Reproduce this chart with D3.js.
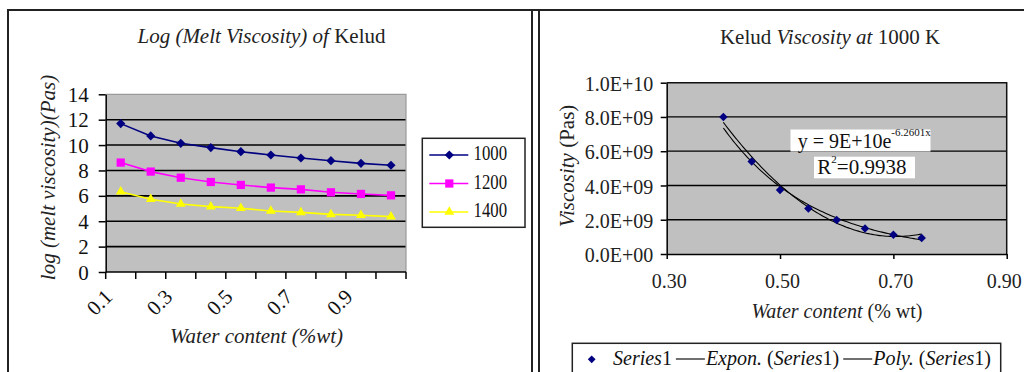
<!DOCTYPE html>
<html><head><meta charset="utf-8">
<script src="https://cdn.jsdelivr.net/npm/d3@7"></script>
<style>
body{margin:0;background:#fff;}
svg{display:block;font-family:"Liberation Serif","Times New Roman",serif;}
</style></head>
<body>
<script>
// ---------- DATA ----------
// Left chart: log(melt viscosity) vs water content, three temperatures
const waterCategories = ["0.1","0.2","0.3","0.4","0.5","0.6","0.7","0.8","0.9","1.0"];
const temperatures = ["1000","1200","1400"];
const logVisc1000 = [11.69,10.72,10.14,9.80,9.48,9.22,8.98,8.77,8.56,8.41];
const logVisc1200 = [8.62,7.91,7.43,7.09,6.86,6.65,6.51,6.28,6.15,6.04];
const logVisc1400 = [6.33,5.73,5.36,5.15,5.02,4.81,4.70,4.54,4.47,4.36];
const leftYTicks = [0,2,4,6,8,10,12,14];

// Right chart: viscosity at 1000 K
const waterContent = [0.40,0.45,0.50,0.55,0.60,0.65,0.70,0.75];
const viscosity1000 = [8.0e9,5.40e9,3.74e9,2.66e9,1.98e9,1.49e9,1.13e9,0.94e9];
const rightYTicks = [0,2e9,4e9,6e9,8e9,1e10];
const rightXTicks = [0.30,0.50,0.70,0.90];
const expCoefA = 9e10, expCoefB = -6.2601;   // from trendline equation
const eqLabel = "y = 9E+10e", eqSup = "-6.2601x", r2Value = "=0.9938";

// ---------- SETUP ----------
const W = 1024, H = 372;
const svg = d3.select("body").append("svg").attr("width", W).attr("height", H);
const FONT = '"Liberation Serif","Times New Roman",serif';

// panel frames
const frame = svg.append("g").attr("stroke", "#222").attr("stroke-width", 2);
frame.append("line").attr("x1", 7).attr("x2", W).attr("y1", 10).attr("y2", 10);
frame.append("line").attr("x1", 8).attr("x2", 8).attr("y1", 9).attr("y2", H);
frame.append("line").attr("x1", 532).attr("x2", 532).attr("y1", 9).attr("y2", H);
frame.append("line").attr("x1", 539).attr("x2", 539).attr("y1", 9).attr("y2", H);

function diamond(area){ return d3.symbol(d3.symbolSquare, area)(); }

// ---------- LEFT CHART ----------
const L = {x0: 105.7, x1: 406, y0: 94.3, y1: 272};
const xL = d3.scaleBand().domain(waterCategories).range([L.x0, L.x1]);
const yL = d3.scaleLinear().domain([0, 14]).range([L.y1, L.y0]);
const gl = svg.append("g");

gl.append("rect").attr("x", L.x0).attr("y", L.y0).attr("width", L.x1 - L.x0).attr("height", L.y1 - L.y0)
  .attr("fill", "#c0c0c0");
// gridlines
gl.append("g").selectAll("line").data(leftYTicks.filter(v => v > 0 && v < 14)).join("line")
  .attr("x1", L.x0).attr("x2", L.x1).attr("y1", d => yL(d)).attr("y2", d => yL(d))
  .attr("stroke", "#000").attr("stroke-width", 1.6);
// top/right border (grey)
gl.append("path").attr("d", `M${L.x0},${yL(14)}H${L.x1}V${L.y1}`).attr("fill", "none")
  .attr("stroke", "#9a9a9a").attr("stroke-width", 1.2);

// y axis
const axL = gl.append("g").attr("transform", `translate(${L.x0},0)`)
  .call(d3.axisLeft(yL).tickValues(leftYTicks).tickSize(7).tickPadding(10).tickSizeOuter(0));
axL.select(".domain").attr("stroke", "#000").attr("stroke-width", 1.5);
axL.selectAll(".tick line").attr("stroke", "#000").attr("stroke-width", 1.5);
axL.selectAll("text").attr("font-family", FONT).attr("font-size", 21).attr("fill", "#111").attr("dy", "0.34em");

// x axis line and boundary ticks
gl.append("line").attr("x1", L.x0).attr("x2", L.x1).attr("y1", L.y1).attr("y2", L.y1)
  .attr("stroke", "#000").attr("stroke-width", 1.5);
const boundaries = waterCategories.map(c => xL(c)).concat([xL(waterCategories[waterCategories.length-1]) + xL.bandwidth()]);
gl.append("g").selectAll("line").data(boundaries).join("line")
  .attr("x1", d => d).attr("x2", d => d).attr("y1", L.y1).attr("y2", L.y1 + 7)
  .attr("stroke", "#000").attr("stroke-width", 1.5);
// rotated labels (every other)
gl.append("g").selectAll("text").data(waterCategories.filter((c, i) => i % 2 === 0)).join("text")
  .attr("transform", d => `translate(${xL(d) + xL.bandwidth()/2 - 7},${L.y1 + 26}) rotate(-45)`)
  .attr("text-anchor", "end").attr("font-family", FONT).attr("font-size", 21).attr("fill", "#111")
  .text(d => d);

// series
const leftSeries = [
  {name: temperatures[0], values: logVisc1000, color: "#000080", sym: "diamond"},
  {name: temperatures[1], values: logVisc1200, color: "#ff00ff", sym: "square"},
  {name: temperatures[2], values: logVisc1400, color: "#ffff00", sym: "triangle"}
];
function markerPath(sym){
  if (sym === "diamond") return diamond(42);
  if (sym === "square") return d3.symbol(d3.symbolSquare, 68)();
  return d3.symbol(d3.symbolTriangle, 42)();
}
const lineL = d3.line().x((d, i) => xL(waterCategories[i]) + xL.bandwidth()/2).y(d => yL(d));
leftSeries.forEach(s => {
  gl.append("path").attr("d", lineL(s.values)).attr("fill", "none").attr("stroke", s.color).attr("stroke-width", 1.6);
  gl.append("g").selectAll("path").data(s.values).join("path")
    .attr("d", markerPath(s.sym))
    .attr("transform", (d, i) => `translate(${xL(waterCategories[i]) + xL.bandwidth()/2},${yL(d)})` + (s.sym === "diamond" ? " rotate(45)" : ""))
    .attr("fill", s.color);
});

// titles
const tL = gl.append("text").attr("x", 261.5).attr("y", 43).attr("text-anchor", "middle")
  .attr("font-family", FONT).attr("font-size", 21).attr("fill", "#222");
tL.append("tspan").attr("font-style", "italic").text("Log (Melt Viscosity) of ");
tL.append("tspan").text("Kelud");
gl.append("text").attr("transform", "translate(55,177.5) rotate(-90)").attr("text-anchor", "middle")
  .attr("font-family", FONT).attr("font-size", 21).attr("font-style", "italic").attr("fill", "#222")
  .text("log (melt viscosity)(Pas)");
gl.append("text").attr("x", 256.5).attr("y", 343).attr("text-anchor", "middle")
  .attr("font-family", FONT).attr("font-size", 21).attr("font-style", "italic").attr("fill", "#222")
  .text("Water content (%wt)");

// legend
const lg = gl.append("g");
lg.append("rect").attr("x", 422.3).attr("y", 138.3).attr("width", 102.7).attr("height", 89)
  .attr("fill", "#fff").attr("stroke", "#222").attr("stroke-width", 1.5);
leftSeries.forEach((s, i) => {
  const yy = 155 + i * 28.5;
  lg.append("line").attr("x1", 429.3).attr("x2", 468.3).attr("y1", yy).attr("y2", yy)
    .attr("stroke", s.color).attr("stroke-width", 1.6);
  lg.append("path").attr("d", markerPath(s.sym))
    .attr("transform", `translate(449.3,${yy})` + (s.sym === "diamond" ? " rotate(45)" : "")).attr("fill", s.color);
  lg.append("text").attr("x", 473.5).attr("y", yy + 5).attr("font-family", FONT).attr("font-size", 20)
    .attr("textLength", 33.5).attr("lengthAdjust", "spacingAndGlyphs").attr("fill", "#111").text(s.name);
});

// ---------- RIGHT CHART ----------
const R = {x0: 666.7, x1: 1006.7, y0: 82.7, y1: 254};
const xR = d3.scaleLinear().domain([0.3, 0.9]).range([R.x0, R.x1]);
const yR = d3.scaleLinear().domain([0, 1e10]).range([R.y1, R.y0]);
const gr = svg.append("g");

gr.append("rect").attr("x", R.x0).attr("y", R.y0).attr("width", R.x1 - R.x0).attr("height", R.y1 - R.y0)
  .attr("fill", "#c0c0c0");
gr.append("g").selectAll("line").data(rightYTicks.filter(v => v > 0 && v < 1e10)).join("line")
  .attr("x1", R.x0).attr("x2", R.x1).attr("y1", d => yR(d)).attr("y2", d => yR(d))
  .attr("stroke", "#000").attr("stroke-width", 1.3);
gr.append("path").attr("d", `M${R.x0},${R.y0}H${R.x1}V${R.y1}`).attr("fill", "none")
  .attr("stroke", "#111").attr("stroke-width", 1.5);

function sciFmt(v){
  if (v === 0) return "0.0E+00";
  const e = Math.floor(Math.log10(v));
  const m = v / Math.pow(10, e);
  return m.toFixed(1) + "E+" + String(e).padStart(2, "0");
}
const axRY = gr.append("g").attr("transform", `translate(${R.x0},0)`)
  .call(d3.axisLeft(yR).tickValues(rightYTicks).tickFormat(sciFmt).tickSize(6).tickPadding(7.4).tickSizeOuter(0));
axRY.select(".domain").attr("stroke", "#000").attr("stroke-width", 1.5);
axRY.selectAll(".tick line").attr("stroke", "#000").attr("stroke-width", 1.5);
axRY.selectAll("text").attr("font-family", FONT).attr("font-size", 20).attr("fill", "#222").attr("dy", "0.38em");

const axRX = gr.append("g").attr("transform", `translate(0,${R.y1})`)
  .call(d3.axisBottom(xR).tickValues(rightXTicks).tickFormat(d3.format(".2f")).tickSize(5).tickPadding(15).tickSizeOuter(0));
axRX.select(".domain").attr("stroke", "#000").attr("stroke-width", 1.5);
axRX.selectAll(".tick line").attr("stroke", "#000").attr("stroke-width", 1.5);
axRX.selectAll("text").attr("font-family", FONT).attr("font-size", 20).attr("fill", "#222")
  .attr("dx", (d, i) => i === rightXTicks.length - 1 ? -3 : 2);

// trendlines
const xMin = d3.min(waterContent), xMax = d3.max(waterContent);
const xs = d3.range(0, 101).map(i => xMin + (xMax - xMin) * i / 100);
const expLine = xs.map(x => [x, expCoefA * Math.exp(expCoefB * x)]);
// quadratic least-squares fit (as a "Poly." trendline)
function polyFit2(X, Y){
  let s = [0,0,0,0,0], t = [0,0,0];
  X.forEach((x, i) => { for (let k = 0; k < 5; k++) s[k] += Math.pow(x, k); for (let k = 0; k < 3; k++) t[k] += Y[i] * Math.pow(x, k); });
  const M = [[s[0],s[1],s[2],t[0]],[s[1],s[2],s[3],t[1]],[s[2],s[3],s[4],t[2]]];
  for (let i = 0; i < 3; i++){
    for (let j = i+1; j < 3; j++){ const f = M[j][i]/M[i][i]; for (let k = i; k < 4; k++) M[j][k] -= f*M[i][k]; }
  }
  const c = [0,0,0];
  for (let i = 2; i >= 0; i--){ let v = M[i][3]; for (let k = i+1; k < 3; k++) v -= M[i][k]*c[k]; c[i] = v/M[i][i]; }
  return c;
}
const pc = polyFit2(waterContent, viscosity1000);
const polyLine = xs.map(x => [x, pc[0] + pc[1]*x + pc[2]*x*x]);
const lineR = d3.line().x(d => xR(d[0])).y(d => yR(d[1]));
gr.append("path").attr("d", lineR(expLine)).attr("fill", "none").attr("stroke", "#000").attr("stroke-width", 1.1);
gr.append("path").attr("d", lineR(polyLine)).attr("fill", "none").attr("stroke", "#000").attr("stroke-width", 1.1);

// points
gr.append("g").selectAll("path").data(waterContent).join("path")
  .attr("d", diamond(36))
  .attr("transform", (d, i) => `translate(${xR(d)},${yR(viscosity1000[i])}) rotate(45)`)
  .attr("fill", "#000080");

// equation labels
gr.append("rect").attr("x", 790.5).attr("y", 129.5).attr("width", 140).attr("height", 22).attr("fill", "#fff");
gr.append("rect").attr("x", 814).attr("y", 156.7).attr("width", 101).attr("height", 21.6).attr("fill", "#fff");
const eq = gr.append("text").attr("x", 797.7).attr("y", 148.3).attr("font-family", FONT).attr("font-size", 20).attr("fill", "#111");
eq.append("tspan").text(eqLabel);
eq.append("tspan").attr("font-size", 11).attr("dy", -12).text(eqSup);
const r2 = gr.append("text").attr("x", 817.3).attr("y", 174.3).attr("font-family", FONT).attr("font-size", 21).attr("fill", "#111");
r2.append("tspan").text("R");
r2.append("tspan").attr("font-size", 11).attr("dy", -11).text("2");
r2.append("tspan").attr("dy", 11).text(r2Value);

// titles
const tR = gr.append("text").attr("x", 830).attr("y", 44).attr("text-anchor", "middle")
  .attr("font-family", FONT).attr("font-size", 21).attr("fill", "#222");
tR.append("tspan").text("Kelud ");
tR.append("tspan").attr("font-style", "italic").text("Viscosity at");
tR.append("tspan").text(" 1000 K");
const yTR = gr.append("text").attr("transform", "translate(574,166) rotate(-90)").attr("text-anchor", "middle")
  .attr("font-family", FONT).attr("font-size", 21).attr("fill", "#222");
yTR.append("tspan").attr("font-style", "italic").text("Viscosity");
yTR.append("tspan").text(" (Pas)");
const xTR = gr.append("text").attr("x", 837).attr("y", 318).attr("text-anchor", "middle")
  .attr("font-family", FONT).attr("font-size", 20).attr("fill", "#222");
xTR.append("tspan").attr("font-style", "italic").text("Water content");
xTR.append("tspan").text(" (% wt)");

// bottom legend
const lb = gr.append("g");
lb.append("rect").attr("x", 572.3).attr("y", 343.3).attr("width", 428.4).attr("height", 45)
  .attr("fill", "#fff").attr("stroke", "#222").attr("stroke-width", 1.5);
lb.append("path").attr("d", diamond(30)).attr("transform", "translate(591.7,359.3) rotate(45)").attr("fill", "#000080");
const legendItems = [
  {dash: false, parts: [["Series", true], ["1", false]]},
  {dash: true, parts: [["Expon.", true], [" (", false], ["Series", true], ["1)", false]]},
  {dash: true, parts: [["Poly.", true], [" (", false], ["Series", true], ["1)", false]]}
];
let cx = 613;
const baseY = 365;
legendItems.forEach(item => {
  if (item.dash){
    cx += 4;
    lb.append("line").attr("x1", cx).attr("x2", cx + 29).attr("y1", baseY - 6).attr("y2", baseY - 6)
      .attr("stroke", "#111").attr("stroke-width", 1.2);
    cx += 30;
  }
  const t = lb.append("text").attr("x", cx).attr("y", baseY).attr("font-family", FONT).attr("font-size", 20).attr("fill", "#111");
  item.parts.forEach(p => t.append("tspan").attr("font-style", p[1] ? "italic" : "normal").text(p[0]));
  cx += t.node().getComputedTextLength();
});
</script>
</body></html>
